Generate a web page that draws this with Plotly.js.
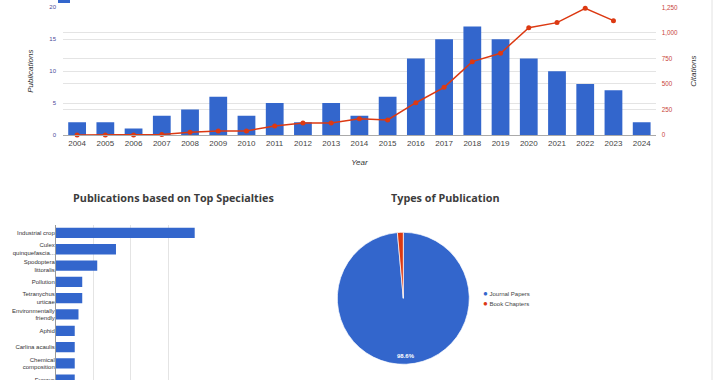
<!DOCTYPE html>
<html><head><meta charset="utf-8">
<script src="https://cdn.plot.ly/plotly-3.0.1.min.js"></script>
<style>html,body{margin:0;padding:0;background:#fff;overflow:hidden}#chart{width:720px;height:380px}</style>
</head><body><div id="chart"></div>
<script>
// ---- data ----
const years = ['2004','2005','2006','2007','2008','2009','2010','2011','2012','2013','2014','2015','2016','2017','2018','2019','2020','2021','2022','2023','2024'];
const publications = [2,2,1,3,4,6,3,5,2,5,3,6,12,15,17,15,12,10,8,7,2];
const citationYears = ['2004','2005','2006','2007','2008','2009','2010','2011','2012','2013','2014','2015','2016','2017','2018','2019','2020','2021','2022','2023'];
const citations = [0,0,0,5,26,39,40,88,118,118,160,147,316,467,718,800,1050,1100,1240,1119];
const specialties = ['Industrial crop','Culex<br>quinquefascia...','Spodoptera<br>littoralis','Pollution','Tetranychus<br>urticae','Environmentally<br>friendly','Aphid','Carlina acaulis','Chemical<br>composition','Fungus'];
const specialtyCounts = [37,16,11,7,7,6,5,5,5,5];
const pubTypes = ['Journal Papers','Book Chapters'];
const pubTypeCounts = [138,2];
const pubTypeColors = ['#3366cc','#dc3912'];

const W = 720, H = 380;
const px = v => v / W, py = v => 1 - v / H;
const AR = 'Liberation Sans, Arial, sans-serif';
const OS = 'Open Sans, sans-serif';

const totalTypes = pubTypeCounts.reduce((a, b) => a + b, 0);
const mainPct = (pubTypeCounts[0] / totalTypes * 100).toFixed(1) + '%';

const traces = [
  {type:'bar', name:'Publications', x:years, y:publications, marker:{color:'#3366cc'}, xaxis:'x', yaxis:'y'},
  {type:'scatter', mode:'lines+markers', name:'Citations', x:citationYears, y:citations,
   line:{color:'#dc3912', width:1.5}, marker:{color:'#dc3912', size:5}, xaxis:'x', yaxis:'y2', cliponaxis:false},
  {type:'bar', orientation:'h', x:specialtyCounts, y:specialties, marker:{color:'#3366cc'},
   xaxis:'x3', yaxis:'y3', showlegend:false},
  {type:'pie', labels:pubTypes, values:pubTypeCounts, marker:{colors:pubTypeColors, line:{color:'#fff', width:0.7}},
   sort:false, direction:'clockwise', rotation:0, textinfo:'none', showlegend:false,
   domain:{x:[px(337.3), px(469.3)], y:[py(364.3), py(232.3)]}}
];

const annotations = [
  {text:'<b>Publications based on Top Specialties</b>', x:px(173), y:py(198), xref:'paper', yref:'paper',
   xanchor:'center', yanchor:'middle', showarrow:false, font:{family:OS, size:10.8, color:'#3c3c3c'}},
  {text:'<b>Types of Publication</b>', x:px(445), y:py(198), xref:'paper', yref:'paper',
   xanchor:'center', yanchor:'middle', showarrow:false, font:{family:OS, size:10.8, color:'#3c3c3c'}},
  {text:'<b>' + mainPct + '</b>', x:px(405.5), y:py(355.5), xref:'paper', yref:'paper',
   xanchor:'center', yanchor:'middle', showarrow:false, font:{family:AR, size:6, color:'#fff'}}
];
pubTypes.forEach((t, i) => {
  annotations.push({text:'<span style="color:' + pubTypeColors[i] + ';font-size:8px">●</span> ' + t,
    x:px(480.5), y:py(293.7 + i * 9.6), xref:'paper', yref:'paper', xanchor:'left', yanchor:'middle',
    showarrow:false, font:{family:AR, size:6, color:'#444'}});
});

const layout = {
  width:W, height:H, margin:{l:0, r:0, t:0, b:0, autoexpand:false},
  paper_bgcolor:'#fff', plot_bgcolor:'#fff', bargap:0.37,
  font:{family:AR, color:'#444'},
  showlegend:true,
  legend:{orientation:'h', x:px(44), xanchor:'left', y:py(-3), yanchor:'middle', bgcolor:'rgba(0,0,0,0)',
          font:{family:AR, size:8, color:'#444'}, itemwidth:30, traceorder:'normal'},
  xaxis:{domain:[px(63), px(655.8)], type:'category', range:[-0.5, 20.5], showgrid:false, showline:true, linecolor:'#aaa',
         ticks:'', tickfont:{family:AR, size:8, color:'#444'}, anchor:'y',
         title:{text:'<i>Year</i>', font:{family:AR, size:8, color:'#333'}, standoff:12}},
  yaxis:{domain:[py(135), py(7.3)], range:[0,20], dtick:5, gridcolor:'#e4e4e4', zeroline:false,
         ticks:'', tickfont:{family:AR, size:6, color:'#4a4a99'}, ticklabelstandoff:6,
         title:{text:'<i>Publications</i>', font:{family:AR, size:8, color:'#333'}, standoff:14}},
  yaxis2:{overlaying:'y', side:'right', anchor:'x', range:[0,1250], dtick:250, tickformat:',d', gridcolor:'#e4e4e4',
          zeroline:false, ticks:'', tickfont:{family:AR, size:6.3, color:'#c9453a'}, ticklabelstandoff:5,
          title:{text:'<i>Citations</i>', font:{family:AR, size:8, color:'#333'}, standoff:13}},
  xaxis3:{domain:[px(56), px(206.7)], range:[0,40.2], dtick:10, gridcolor:'#e4e4e4', zeroline:false,
          showticklabels:false, ticks:'', anchor:'y3'},
  yaxis3:{domain:[0, py(224.8)], type:'category', range:[9.02,-0.5], showgrid:false, showline:true, linecolor:'#999',
          ticks:'', tickfont:{family:AR, size:6, color:'#333'}, ticklabelstandoff:-1, anchor:'x3'},
  annotations:annotations,
  shapes:[{type:'line', xref:'paper', yref:'paper', x0:px(712), x1:px(712), y0:0, y1:1, line:{color:'#e2e2e2', width:1}}]
};

Plotly.newPlot('chart', traces, layout, {staticPlot:true, displayModeBar:false});
</script></body></html>
